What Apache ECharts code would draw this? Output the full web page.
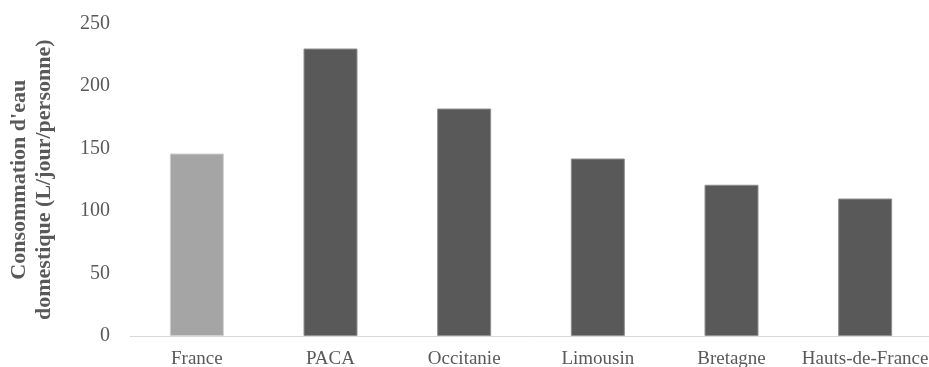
<!DOCTYPE html>
<html>
<head>
<meta charset="utf-8">
<script src="https://cdn.jsdelivr.net/npm/echarts@6/dist/echarts.min.js"></script>
<style>
  html, body { margin: 0; padding: 0; background: #ffffff; }
  #chart { width: 929px; height: 367px; }
</style>
</head>
<body>
<div id="chart"></div>
<script>
// Consommation d'eau domestique par région (L/jour/personne)
const categories = ['France', 'PACA', 'Occitanie', 'Limousin', 'Bretagne', 'Hauts-de-France'];
const consumption = [146, 230, 182, 142, 121, 110];
const yTicks = [0, 50, 100, 150, 200, 250];
const nationalCategory = 'France';

const chart = echarts.init(document.getElementById('chart'), null, { renderer: 'canvas' });

const serif = '"Liberation Serif", "Times New Roman", serif';
const textGrey = '#595959';

chart.setOption({
  animation: false,
  backgroundColor: '#ffffff',
  grid: {
    left: 130, right: -3, top: 23.5, bottom: 31,
    containLabel: false, outerBoundsMode: 'none'
  },
  xAxis: {
    type: 'category',
    data: categories,
    axisLine: { show: true, lineStyle: { color: '#d9d9d9', width: 1 } },
    axisTick: { show: false },
    axisLabel: {
      interval: 0, hideOverlap: false,
      color: textGrey, fontFamily: serif, fontSize: 19, margin: 14
    }
  },
  yAxis: {
    type: 'value',
    min: yTicks[0],
    max: yTicks[yTicks.length - 1],
    interval: yTicks[1] - yTicks[0],
    name: "Consommation d'eau\ndomestique (L/jour/personne)",
    nameLocation: 'middle',
    nameRotate: 90,
    nameGap: 73,
    nameTextStyle: {
      color: textGrey, fontFamily: serif, fontSize: 22, fontWeight: 'bold', lineHeight: 25
    },
    axisLine: { show: false },
    axisTick: { show: false },
    splitLine: { show: false },
    axisLabel: { color: textGrey, fontFamily: serif, fontSize: 20, margin: 20 }
  },
  series: [{
    type: 'bar',
    data: consumption.map((v, i) => ({
      value: v,
      itemStyle: categories[i] === nationalCategory
        ? { color: '#a5a5a5', borderColor: '#cfcfcf', borderWidth: 1 }
        : { color: '#595959', borderColor: '#8f8f8f', borderWidth: 1 }
    })),
    barWidth: 54
  }]
});
</script>
</body>
</html>
